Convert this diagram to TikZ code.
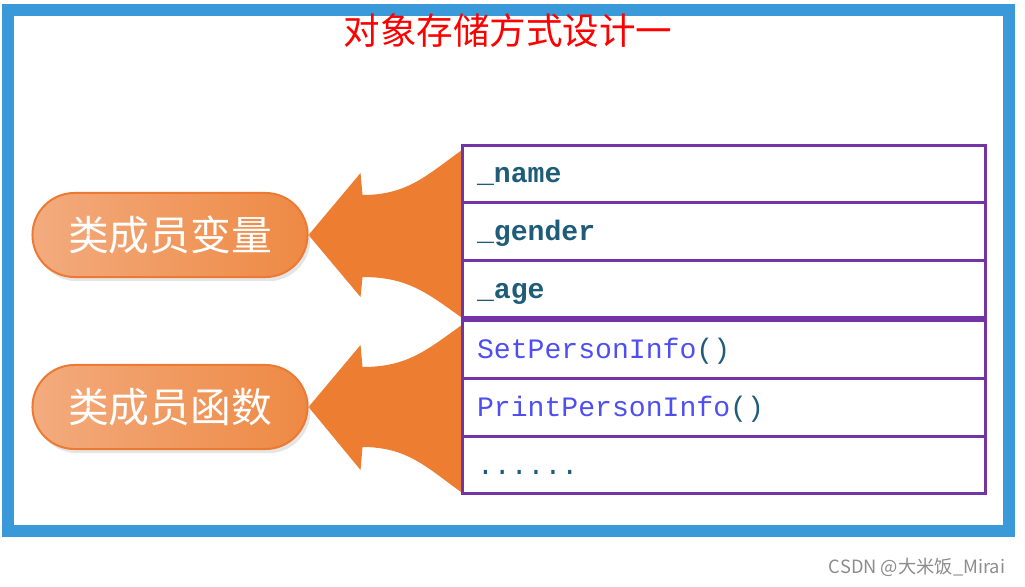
\documentclass[tikz,border=0pt]{standalone}
\usepackage{fontspec}
\setmonofont{Liberation Mono}
\newfontfamily\cjk{Noto Sans CJK SC}
\usepackage{xcolor}
\usepackage{tikz}
\usetikzlibrary{positioning}
\usetikzlibrary{calc}
\usetikzlibrary{shadows}
\usetikzlibrary{backgrounds}

\definecolor{frameblue}{HTML}{3A99D8}
\definecolor{pillline}{HTML}{EC7A33}
\definecolor{pillleft}{HTML}{F3AB7E}
\definecolor{pillright}{HTML}{EE8944}
\definecolor{arrowcol}{HTML}{ED7D31}
\definecolor{rowline}{HTML}{7434A6}
\definecolor{varcol}{HTML}{1F5C7A}
\definecolor{funccol}{HTML}{4E4EF2}

\begin{document}
\begin{tikzpicture}
    [x=0.025cm, y=-0.025cm,
      % title on top
      title/.style={text=red, font=\cjk\fontsize{26}{28}\selectfont},
      % orange pills on the left
      pill/.style={rectangle, rounded corners=1.05cm, minimum width=6.875cm, minimum height=2.1cm,
        draw=pillline, line width=0.05cm, left color=pillleft, right color=pillright,
        text=white, font=\cjk\fontsize{29}{30}\selectfont,
        drop shadow={shadow xshift=2pt, shadow yshift=-3pt, fill=black!20}},
      % rows of the table
      row/.style={rectangle, draw=rowline, line width=0.075cm, fill=white, outer sep=0pt,
        inner xsep=0.375cm, text width=12.325cm, align=left, minimum height=1.44cm,
        text height=15pt, text depth=2pt},
      var/.style={row, text=varcol, font=\ttfamily\bfseries\fontsize{20}{24}\selectfont},
      func/.style={row, text=funccol, font=\ttfamily\fontsize{20}{24}\selectfont},
      % big arrows
      bigarrow/.style={fill=arrowcol},
      credit/.style={text=black!45, font=\cjk\fontsize{13}{15}\selectfont},
      node distance=0pt]
    \useasboundingbox (0,0) rectangle (1025,586);
    \draw[frameblue, line width=0.3cm] (8,10) rectangle (1009,531);

    % nodes
    \node[title] (title) at (508,31) {对象存储方式设计一};

    \node[pill] (member) at (170,235) {类成员变量};
    \node[pill] (method) at (170,407) {类成员函数};

    \node[var, anchor=north west] (name) at (462,145) {\_name};
    \node[var, below=of name] (gender) {\_gender};
    \node[var, below=of gender] (age) {\_age};
    \node[func, below=0.075cm of age] (setinfo) {SetPersonInfo\textcolor{varcol}{()}};
    \node[func, below=of setinfo] (printinfo) {PrintPersonInfo\textcolor{varcol}{()}};
    \node[func, text=varcol, below=of printinfo] (more) {......};

    \node[credit, anchor=east] (csdn) at (1010,567) {CSDN @大米饭\_Mirai};

    % arrows
    \begin{scope}[on background layer]
      \fill[bigarrow] (member.east) -- ++(52,-62) -- ++(2,22)
        .. controls +(45,0) and +(-35,25) .. ($(name.north west)+(0,5)$)
        -- (age.south west)
        .. controls +(-35,-25) and +(45,0) .. ($(member.east)+(54,42)$)
        -- ($(member.east)+(52,62)$) -- cycle;
      \fill[bigarrow] (method.east) -- ++(52,-62) -- ++(2,22)
        .. controls +(45,0) and +(-35,25) .. ($(setinfo.north west)+(0,4)$)
        -- ($(more.south west)+(0,-1)$)
        .. controls +(-35,-25) and +(45,0) .. ($(method.east)+(54,40)$)
        -- ($(method.east)+(52,63)$) -- cycle;
    \end{scope}

  \end{tikzpicture}
\end{document}
